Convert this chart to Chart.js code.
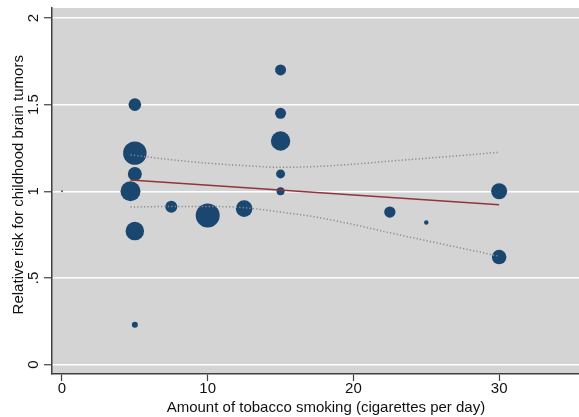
<!DOCTYPE html>
<html><head><meta charset="utf-8">
<script src="https://cdn.jsdelivr.net/npm/chart.js@4"></script>
<style>html,body{margin:0;padding:0;background:#fff;overflow:hidden}#wrap{width:579px;height:417px}</style>
</head><body><div id="wrap"><canvas id="c" width="579" height="417"></canvas></div>
<script>
// Study estimates: cigarettes/day vs relative risk, bubble = study weight
const studyX      = [5, 5, 5, 4.7, 5, 5, 7.5, 10, 12.5, 15, 15, 15, 15, 15, 22.5, 25, 30, 30];
const studyRR     = [1.5, 1.22, 1.10, 1.00, 0.77, 0.23, 0.91, 0.86, 0.90, 1.70, 1.45, 1.29, 1.10, 1.00, 0.88, 0.82, 1.00, 0.62];
const studyWeight = [40, 137, 49, 100, 86, 9, 36, 144, 69, 30, 30, 94, 20, 16, 32, 5, 64, 53];

// reference point at zero exposure
const refX = [0];
const refY = [1];

// meta-regression fit and confidence band
const fitX   = [4.7, 30];
const fitY   = [1.065, 0.922];
const bandX  = [4.7, 7.5, 10, 12.5, 15, 17.5, 20, 22.5, 25, 27.5, 30];
const upperY = [1.21, 1.182, 1.162, 1.148, 1.138, 1.143, 1.156, 1.174, 1.19, 1.207, 1.225];
const lowerY = [0.909, 0.912, 0.912, 0.905, 0.88, 0.85, 0.808, 0.76, 0.715, 0.67, 0.625];

// ticks
const xTickValues = [0, 10, 20, 30];
const xTickLabels = ['0', '10', '20', '30'];
const yTickValues = [0, 0.5, 1, 1.5, 2];
const yTickLabels = ['0', '.5', '1', '1.5', '2'];

const xTitle = 'Amount of tobacco smoking (cigarettes per day)';
const yTitle = 'Relative risk for childhood brain tumors';

const FONT = 'Liberation Sans, Arial, sans-serif';
const NB = '\u00a0';
const pts = (xs, ys) => xs.map((x, i) => ({x, y: ys[i]}));

const bgPlugin = {
  id: 'bg',
  beforeDraw(chart) {
    const {ctx, chartArea: a} = chart;
    ctx.save();
    ctx.fillStyle = '#ffffff';
    ctx.fillRect(0, 0, chart.width, chart.height);
    ctx.fillStyle = '#d4d4d4';
    ctx.fillRect(a.left, a.top, a.right - a.left, a.bottom - a.top);
    ctx.restore();
  }
};

new Chart(document.getElementById('c'), {
  type: 'bubble',
  data: {
    datasets: [
      {
        type: 'line', data: pts(fitX, fitY), borderColor: '#90353b', borderWidth: 1.5,
        pointRadius: 0, fill: false, order: 1
      },
      {
        type: 'line', data: pts(bandX, upperY), borderColor: '#8a8a8a', borderWidth: 1.5,
        borderDash: [1.2, 2.2], pointRadius: 0, fill: false, cubicInterpolationMode: 'monotone', order: 2
      },
      {
        type: 'line', data: pts(bandX, lowerY), borderColor: '#8a8a8a', borderWidth: 1.5,
        borderDash: [1.2, 2.2], pointRadius: 0, fill: false, cubicInterpolationMode: 'monotone', order: 3
      },
      {
        data: studyX.map((x, i) => ({x, y: studyRR[i], r: Math.sqrt(studyWeight[i])})),
        backgroundColor: '#1a476f', borderWidth: 0, order: 4
      },
      {
        data: refX.map((x, i) => ({x, y: refY[i], r: 1})),
        backgroundColor: '#555555', borderWidth: 0, order: 5
      }
    ]
  },
  options: {
    responsive: false,
    animation: false,
    devicePixelRatio: 1,
    layout: {autoPadding: false, padding: {top: 8, left: 0, right: 0, bottom: 0}},
    plugins: {legend: {display: false}, tooltip: {enabled: false}},
    scales: {
      x: {
        type: 'linear', min: -0.686, max: 35.48,
        afterFit(s) { s.height = 43; s.paddingLeft = 0; s.paddingRight = 0; },
        border: {display: true, color: '#404040', width: 1.5},
        grid: {drawOnChartArea: false, drawTicks: true, tickLength: 7, tickColor: '#404040', tickWidth: 1.2},
        ticks: {
          stepSize: 10, includeBounds: false, autoSkip: false, padding: -1, maxRotation: 0,
          color: '#111', font: {family: FONT, size: 15},
          callback: (v) => { const i = xTickValues.indexOf(v); return i >= 0 ? xTickLabels[i] : ''; }
        },
        title: {display: true, text: NB.repeat(5) + xTitle, color: '#111', font: {family: FONT, size: 15}, padding: {top: 0, bottom: 0}}
      },
      y: {
        type: 'linear', min: -0.0548, max: 2.0577,
        afterFit(s) { s.width = 52; s.paddingTop = 0; s.paddingBottom = 0; },
        border: {display: true, color: '#404040', width: 1.5},
        grid: {drawOnChartArea: true, color: '#ffffff', lineWidth: 1.5, drawTicks: true, tickLength: 8, tickColor: '#404040', tickWidth: 1.2},
        ticks: {
          stepSize: 0.5, includeBounds: false, autoSkip: false, padding: 0,
          minRotation: 90, maxRotation: 90, crossAlign: 'center',
          color: '#111', font: {family: FONT, size: 15},
          callback: (v) => { const i = yTickValues.findIndex(t => Math.abs(t - v) < 1e-9); return i >= 0 ? yTickLabels[i] : ''; }
        },
        title: {display: true, text: NB.repeat(3) + yTitle, color: '#111', font: {family: FONT, size: 15}, padding: {top: 10, bottom: 0}}
      }
    }
  },
  plugins: [bgPlugin]
});
</script>
</body></html>
